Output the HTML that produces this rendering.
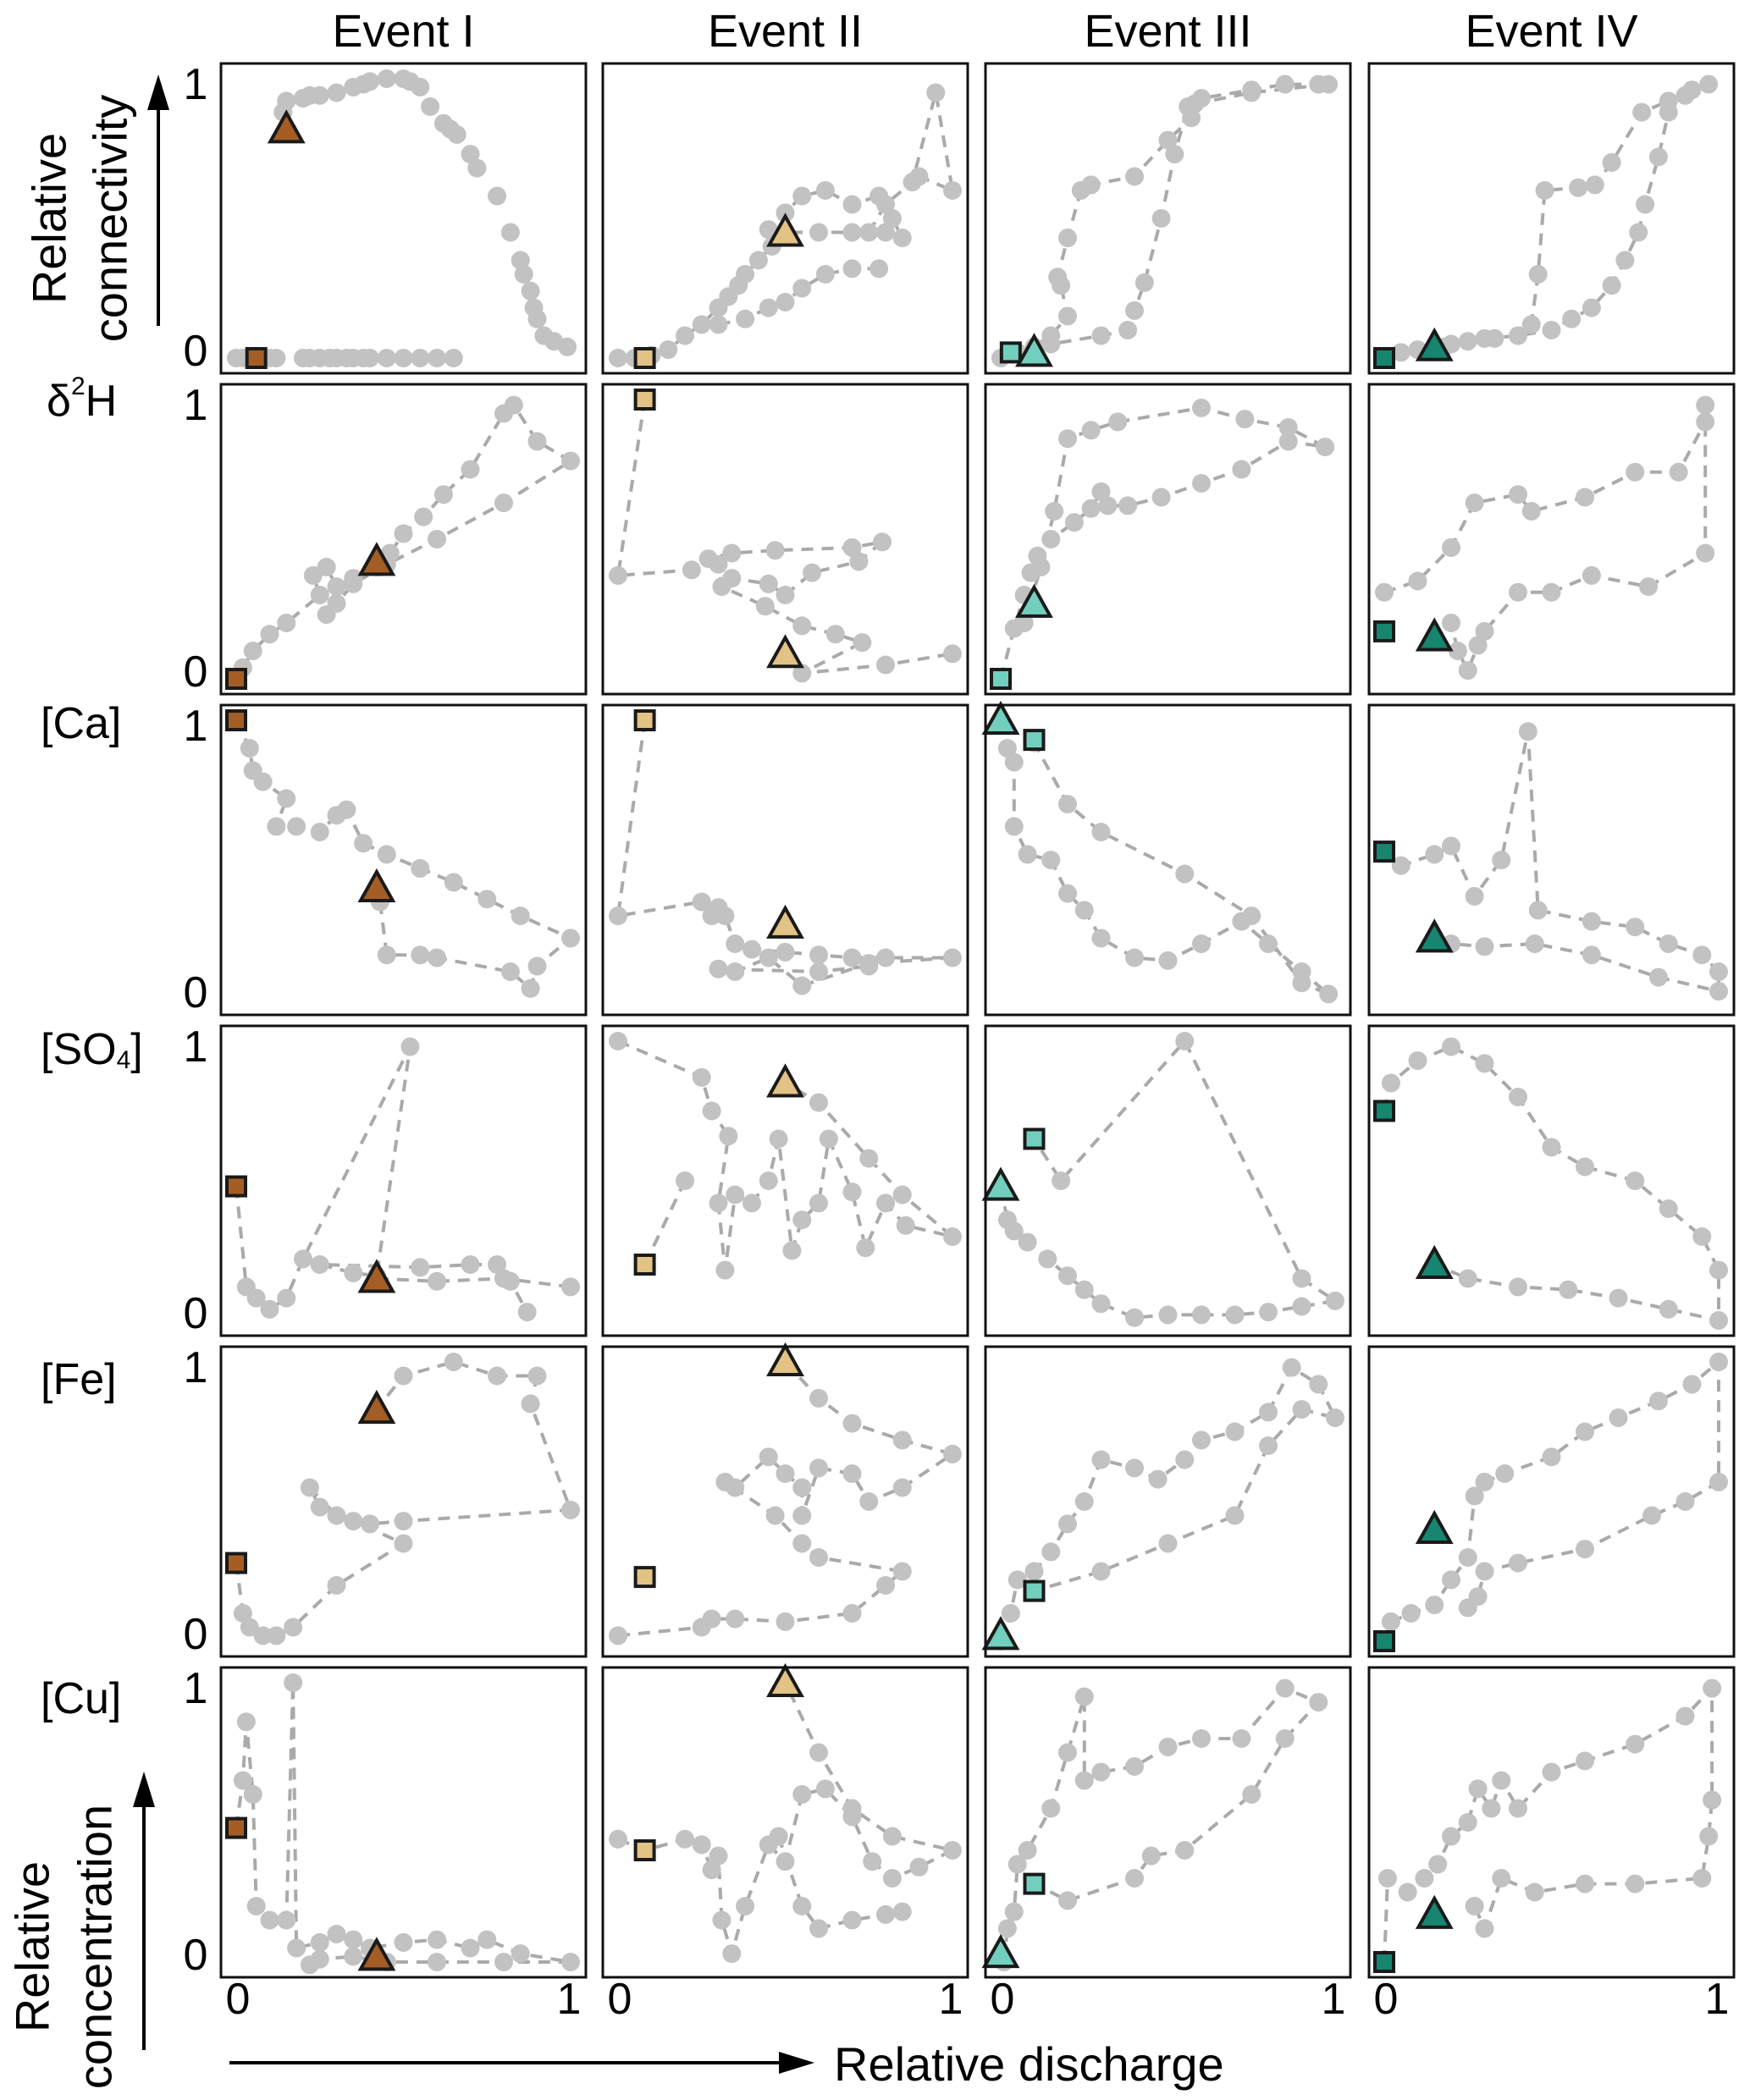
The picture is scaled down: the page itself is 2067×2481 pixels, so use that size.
<!DOCTYPE html>
<html><head><meta charset="utf-8"><style>
html,body{margin:0;padding:0;background:#fff;position:relative;}
svg{display:block;font-family:"Liberation Sans",Arial,sans-serif;}
</style></head><body>
<svg id="chart" width="2067" height="2481" viewBox="0 0 2067 2481" xmlns="http://www.w3.org/2000/svg">
<g id="panels"></g>
<g id="labels"></g>
</svg>
<script>
const events = ["Event I","Event II","Event III","Event IV"];
const rowLabels = ["","δ²H","[Ca]","[SO4]","[Fe]","[Cu]"];
const eventColors = ["#a45e25","#e2c285","#72cfbd","#17856f"];
const xTicks = [0,1];
const yTicks = [0,1];
const conn1 = [[0,0],[0.02,0],[0.04,0],[0.06,0],[0.1,0],[0.12,0],[0.2,0],[0.22,0],[0.25,0],[0.28,0],[0.3,0],[0.33,0],[0.35,0],[0.38,0],[0.4,0],[0.45,0],[0.5,0],[0.55,0],[0.6,0],[0.65,0],[null,null],[0.14,0.88],[0.15,0.92],[0.2,0.93],[0.22,0.94],[0.25,0.94],[0.3,0.95],[0.35,0.97],[0.38,0.98],[0.4,0.99],[0.45,1.0],[0.5,1.0],[0.52,0.99],[0.55,0.97],[0.58,0.9],[0.62,0.84],[0.64,0.82],[0.66,0.8],[0.7,0.73],[0.72,0.68],[0.78,0.58],[0.82,0.45],[0.85,0.35],[0.86,0.3],[0.88,0.24],[0.89,0.18],[0.9,0.14],[0.92,0.08],[0.95,0.06],[0.99,0.04]];
const conn2 = [[0,0],[0.05,0],[0.1,0.01],[0.15,0.03],[0.2,0.08],[0.25,0.12],[0.3,0.18],[0.33,0.22],[0.36,0.26],[0.38,0.3],[0.42,0.35],[0.46,0.4],[0.5,0.45],[0.6,0.45],[0.7,0.45],[0.8,0.45],[0.85,0.43],[0.82,0.5],[0.78,0.58],[0.7,0.55],[0.62,0.6],[0.55,0.58],[0.5,0.52],[0.45,0.46],[null,null],[0.3,0.12],[0.38,0.14],[0.45,0.18],[0.5,0.2],[0.55,0.25],[0.62,0.3],[0.7,0.32],[0.78,0.32],[null,null],[0.75,0.45],[0.8,0.55],[0.88,0.63],[0.95,0.95],[1.0,0.6],[0.9,0.65]];
const conn3 = [[0,0],[0.05,0.02],[0.15,0.05],[0.3,0.08],[0.38,0.1],[0.4,0.17],[0.43,0.27],[0.48,0.5],[0.52,0.73],[0.56,0.9],[0.6,0.93],[0.75,0.96],[0.85,0.98],[0.95,0.98],[0.98,0.98],[0.75,0.95],[0.58,0.91],[0.57,0.86],[0.5,0.78],[0.4,0.65],[0.27,0.62],[0.24,0.6],[0.2,0.43],[0.17,0.29],[0.18,0.26],[0.2,0.15],[0.15,0.08],[0.1,0.04]];
const conn4 = [[0,0],[0.05,0.02],[0.1,0.03],[0.2,0.05],[0.3,0.07],[0.4,0.08],[0.5,0.1],[0.56,0.14],[0.62,0.18],[0.68,0.26],[0.72,0.35],[0.76,0.45],[0.78,0.55],[0.82,0.72],[0.85,0.88],[0.9,0.94],[0.97,0.98],[0.92,0.96],[0.85,0.92],[0.77,0.88],[0.68,0.7],[0.63,0.62],[0.58,0.61],[0.48,0.6],[0.46,0.3],[0.44,0.12],[0.33,0.07],[0.25,0.06],[0.18,0.04]];
const h1 = [[0,0],[0.02,0.04],[0.05,0.1],[0.1,0.16],[0.15,0.2],[0.25,0.3],[0.23,0.37],[0.27,0.4],[0.3,0.33],[0.35,0.36],[0.42,0.4],[0.46,0.45],[0.5,0.52],[0.56,0.58],[0.62,0.66],[0.7,0.75],[0.8,0.95],[0.83,0.98],[0.9,0.85],[1.0,0.78],[0.8,0.63],[0.6,0.5],[0.45,0.41],[0.35,0.34],[0.3,0.27],[0.27,0.23]];
const h2 = [[0.08,1],[0,0.37],[0.22,0.39],[0.27,0.43],[0.34,0.45],[0.47,0.46],[0.7,0.47],[0.79,0.49],[0.72,0.42],[0.58,0.38],[0.5,0.3],[0.45,0.34],[0.34,0.36],[0.3,0.41],[0.31,0.33],[0.44,0.26],[0.55,0.19],[0.65,0.16],[0.73,0.13],[0.55,0.02],[0.8,0.05],[1.0,0.09]];
const h3 = [[0,0],[0.04,0.18],[0.07,0.3],[0.09,0.38],[0.11,0.44],[0.15,0.5],[0.22,0.56],[0.27,0.61],[0.3,0.67],[0.32,0.62],[0.38,0.62],[0.48,0.65],[0.6,0.7],[0.72,0.75],[0.86,0.85],[0.97,0.83],[0.86,0.9],[0.73,0.93],[0.6,0.97],[0.35,0.92],[0.27,0.89],[0.2,0.86],[0.16,0.6],[0.12,0.4],[0.07,0.2]];
const h4 = [[0,0.31],[0.1,0.35],[0.2,0.47],[0.27,0.63],[0.4,0.66],[0.44,0.6],[0.6,0.65],[0.75,0.74],[0.88,0.74],[0.96,0.92],[0.96,0.98],[0.96,0.45],[0.79,0.33],[0.62,0.37],[0.5,0.31],[0.4,0.31],[0.3,0.17],[0.28,0.12],[0.25,0.03],[0.22,0.1],[0.2,0.2]];
const ca1 = [[0,1],[0.04,0.9],[0.05,0.82],[0.08,0.78],[0.15,0.72],[0.12,0.62],[0.18,0.62],[0.25,0.6],[0.3,0.66],[0.33,0.68],[0.38,0.56],[0.45,0.52],[0.55,0.47],[0.65,0.42],[0.75,0.36],[0.85,0.3],[1.0,0.22],[0.9,0.12],[0.88,0.04],[0.82,0.1],[0.6,0.15],[0.55,0.16],[0.45,0.16],[0.43,0.35]];
const ca2 = [[0.08,1],[0,0.3],[0.25,0.35],[0.28,0.3],[0.3,0.33],[0.32,0.3],[0.35,0.2],[0.4,0.18],[0.5,0.17],[0.6,0.16],[0.7,0.15],[0.8,0.15],[1.0,0.15],[0.75,0.13],[0.55,0.05],[0.45,0.15],[0.35,0.1],[0.3,0.11],[0.6,0.1],[0.75,0.12]];
const ca3 = [[0,1],[0.02,0.9],[0.04,0.85],[0.04,0.62],[0.08,0.52],[0.15,0.5],[0.2,0.38],[0.25,0.32],[0.3,0.22],[0.4,0.15],[0.5,0.14],[0.6,0.2],[0.72,0.28],[0.8,0.2],[0.9,0.1],[0.98,0.02],[0.9,0.06],[0.75,0.3],[0.55,0.45],[0.3,0.6],[0.2,0.7],[0.1,0.92]];
const ca4 = [[0,0.53],[0.05,0.48],[0.15,0.52],[0.2,0.55],[0.27,0.37],[0.35,0.5],[0.43,0.96],[0.46,0.32],[0.62,0.28],[0.75,0.26],[0.85,0.2],[0.95,0.16],[1.0,0.1],[1.0,0.03],[0.82,0.08],[0.62,0.16],[0.45,0.2],[0.3,0.19],[0.2,0.2],[0.15,0.22]];
const so1 = [[0,0.48],[0.03,0.12],[0.06,0.08],[0.1,0.04],[0.15,0.08],[0.2,0.22],[0.52,0.98],[0.42,0.16],[0.35,0.17],[0.25,0.2],[0.55,0.19],[0.7,0.2],[0.78,0.2],[0.82,0.14],[0.87,0.03],[null,null],[0.42,0.15],[0.6,0.14],[0.8,0.15],[1.0,0.12]];
const so2 = [[0.08,0.2],[0.2,0.5],[null,null],[0,1],[0.25,0.87],[0.28,0.75],[0.33,0.66],[0.3,0.42],[0.32,0.18],[0.35,0.45],[0.4,0.42],[0.45,0.5],[0.48,0.65],[0.52,0.25],[0.55,0.36],[0.6,0.42],[0.63,0.65],[0.7,0.46],[0.74,0.26],[0.8,0.42],[0.86,0.34],[1.0,0.3],[0.85,0.45],[0.75,0.58],[0.6,0.78],[0.5,0.85]];
const so3 = [[0,0.48],[0.02,0.36],[0.04,0.32],[0.08,0.28],[0.14,0.22],[0.2,0.16],[0.25,0.11],[0.3,0.06],[0.4,0.01],[0.5,0.02],[0.6,0.02],[0.7,0.02],[0.8,0.03],[0.9,0.05],[1.0,0.07],[0.9,0.15],[0.55,1.0],[0.18,0.5],[0.1,0.65]];
const so4 = [[0,0.75],[0.02,0.85],[0.1,0.93],[0.2,0.98],[0.3,0.92],[0.4,0.8],[0.5,0.62],[0.6,0.55],[0.75,0.5],[0.85,0.4],[0.95,0.3],[1.0,0.18],[1.0,0.0],[0.85,0.04],[0.7,0.08],[0.55,0.11],[0.4,0.12],[0.25,0.15],[0.15,0.2]];
const fe1 = [[0,0.28],[0.02,0.1],[0.04,0.05],[0.08,0.02],[0.12,0.02],[0.17,0.05],[0.3,0.2],[0.5,0.35],[0.35,0.43],[0.25,0.48],[0.22,0.55],[0.3,0.45],[0.4,0.42],[0.5,0.43],[1.0,0.47],[0.88,0.85],[0.9,0.95],[0.78,0.95],[0.65,1.0],[0.5,0.95],[0.42,0.83]];
const fe2 = [[0,0.02],[0.25,0.05],[0.28,0.08],[0.35,0.08],[0.5,0.07],[0.7,0.1],[0.8,0.2],[0.85,0.25],[0.6,0.3],[0.55,0.35],[0.47,0.45],[0.32,0.57],[0.35,0.55],[0.45,0.66],[0.5,0.6],[0.55,0.55],[0.55,0.45],[0.6,0.62],[0.7,0.6],[0.75,0.5],[0.85,0.55],[1.0,0.67],[0.85,0.72],[0.7,0.78],[0.6,0.87],[0.5,1.0]];
const fe3 = [[0,0],[0.03,0.1],[0.05,0.22],[0.1,0.25],[0.15,0.32],[0.2,0.42],[0.25,0.5],[0.3,0.65],[0.4,0.62],[0.47,0.58],[0.55,0.65],[0.6,0.72],[0.7,0.75],[0.8,0.82],[0.87,0.98],[0.95,0.92],[1.0,0.8],[0.9,0.83],[0.8,0.7],[0.7,0.45],[0.5,0.35],[0.3,0.25],[0.1,0.18]];
const fe4 = [[0,0],[0.02,0.07],[0.08,0.1],[0.15,0.13],[0.2,0.22],[0.25,0.3],[0.27,0.52],[0.3,0.57],[0.36,0.6],[0.5,0.66],[0.6,0.75],[0.7,0.8],[0.82,0.86],[0.92,0.92],[1.0,1.0],[1.0,0.57],[0.9,0.5],[0.8,0.45],[0.6,0.33],[0.4,0.28],[0.3,0.25],[0.28,0.16],[0.25,0.12]];
const cu1 = [[0,0.48],[0.02,0.65],[0.03,0.86],[0.05,0.6],[0.06,0.2],[0.1,0.15],[0.15,0.15],[0.17,1.0],[0.18,0.05],[0.25,0.07],[0.3,0.1],[0.35,0.08],[0.4,0.05],[0.5,0.07],[0.6,0.08],[0.7,0.05],[0.75,0.08],[0.85,0.03],[1.0,0.0],[0.8,0.0],[0.6,0.0],[0.45,0.0],[0.35,0.02],[0.25,0.01],[0.22,-0.01]];
const cu2 = [[0,0.44],[0.08,0.4],[0.2,0.44],[0.25,0.42],[0.28,0.33],[0.3,0.38],[0.31,0.15],[0.34,0.03],[0.38,0.2],[0.45,0.42],[0.5,0.36],[0.55,0.6],[0.62,0.62],[0.7,0.52],[0.76,0.36],[0.82,0.3],[0.9,0.34],[1.0,0.4],[0.82,0.45],[0.7,0.55],[0.6,0.75],[0.5,1.0],[null,null],[0.48,0.45],[0.55,0.2],[0.6,0.12],[0.7,0.15],[0.8,0.17],[0.85,0.18]];
const cu3 = [[0.01,0.0],[0.02,0.12],[0.04,0.18],[0.05,0.35],[0.08,0.4],[0.15,0.55],[0.2,0.75],[0.25,0.95],[0.25,0.65],[0.3,0.68],[0.4,0.7],[0.5,0.77],[0.6,0.8],[0.72,0.8],[0.85,0.98],[0.95,0.93],[0.85,0.8],[0.75,0.6],[0.55,0.4],[0.45,0.38],[0.4,0.3],[0.2,0.22],[0.1,0.28]];
const cu4 = [[0,0],[0.01,0.3],[0.07,0.25],[0.12,0.3],[0.16,0.35],[0.2,0.45],[0.25,0.5],[0.28,0.62],[0.32,0.55],[0.35,0.65],[0.4,0.55],[0.5,0.68],[0.6,0.72],[0.75,0.78],[0.9,0.88],[0.98,0.98],[0.98,0.58],[0.97,0.45],[0.95,0.3],[0.75,0.28],[0.6,0.28],[0.45,0.25],[0.35,0.3],[0.3,0.12],[0.27,0.2]];
const paths = [[conn1,conn2,conn3,conn4],[h1,h2,h3,h4],[ca1,ca2,ca3,ca4],[so1,so2,so3,so4],[fe1,fe2,fe3,fe4],[cu1,cu2,cu3,cu4]];
const dashed = [[false,true,true,true],[true,true,true,true],[true,true,true,true],[true,true,true,true],[true,true,true,true],[true,true,true,true]];
const squares = [[[0.06,0],[0.08,0],[0.03,0.02],[0,0]],[[0,0],[0.08,1],[0,0],[0,0.17]],[[0,1],[0.08,1],[0.1,0.93],[0,0.53]],[[0,0.48],[0.08,0.2],[0.1,0.65],[0,0.75]],[[0,0.28],[0.08,0.23],[0.1,0.18],[0,0]],[[0,0.48],[0.08,0.4],[0.1,0.28],[0,0]]];
const triangles = [[[0.15,0.82],[0.5,0.45],[0.1,0.02],[0.15,0.04]],[[0.42,0.42],[0.5,0.09],[0.1,0.27],[0.15,0.15]],[[0.42,0.4],[0.5,0.27],[0,1.0],[0.15,0.22]],[[0.42,0.15],[0.5,0.85],[0,0.48],[0.15,0.2]],[[0.42,0.83],[0.5,1.0],[0,0.02],[0.15,0.4]],[[0.42,0.02],[0.5,1.0],[0,0.03],[0.15,0.17]]];

const NS="http://www.w3.org/2000/svg";
const colLeft=[261,712,1164,1617], PW=431, rowTop=[75,454,833,1212,1591,1970], PH=366, PAD=18;
function mk(t,a,p){const e=document.createElementNS(NS,t);for(const k in a)e.setAttribute(k,a[k]);p.appendChild(e);return e;}
const G=document.getElementById('panels'), L=document.getElementById('labels');
for(let r=0;r<6;r++)for(let c=0;c<4;c++){
  const x0=colLeft[c], y0=rowTop[r];
  const sx=v=>x0+PAD+v*(PW-2*PAD), sy=v=>y0+PH-PAD-v*(PH-2*PAD);
  const g=mk('g',{},G);
  
  
  const data=paths[r][c];
  if(dashed[r][c]){
    let d='',pen=false;
    data.forEach(p=>{ if(p[0]===null){pen=false;return;} d+=(pen?'L':'M')+sx(p[0]).toFixed(1)+','+sy(p[1]).toFixed(1); pen=true;});
    const pl=mk('path',{d:d,fill:'none',stroke:'#aaaaaa','stroke-width':4,'stroke-dasharray':'14,10'},g);
    
    
  }
  data.forEach(p=>{ if(p[0]===null)return;
    const ci=mk('circle',{cx:sx(p[0]),cy:sy(p[1]),r:11,fill:'#c2c2c2'},g);
    
    
  });
  const sq=squares[r][c];
  const s=mk('rect',{x:sx(sq[0])-11,y:sy(sq[1])-11,width:22,height:22,fill:eventColors[c],stroke:'#1a1a1a','stroke-width':4},g);
  
  
  const tr=triangles[r][c], tx=sx(tr[0]), ty=sy(tr[1]);
  const t=mk('polygon',{points:(tx-19)+','+(ty+15)+' '+(tx+19)+','+(ty+15)+' '+tx+','+(ty-19),fill:eventColors[c],stroke:'#1a1a1a','stroke-width':4},g);
  
  
  const fr=mk('rect',{x:x0,y:y0,width:PW,height:PH,fill:'none',stroke:'#111','stroke-width':3},g);
  
  
  if(c===0){
    yTicks.forEach(v=>{
      const tt=mk('text',{x:231,y:(v===1?y0+25:y0+PH-26),'font-size':52,'text-anchor':'middle','dominant-baseline':'central'},L);
      tt.textContent=v;
      
      
    });
  }
  if(r===5){
    xTicks.forEach(v=>{
      const tt=mk('text',{x:(v===0?x0+20:x0+PW-20),y:2362,'font-size':52,'text-anchor':'middle','dominant-baseline':'central'},L);
      tt.textContent=v;
      
      
    });
  }
}
events.forEach((e,c)=>{
  const t=mk('text',{x:colLeft[c]+PW/2,y:55,'font-size':54,'text-anchor':'middle'},L);
  t.textContent=e;
  
  
});
const rowLabelY=[0,474,855,1240,1630,2007];
rowLabels.forEach((lab,r)=>{
  if(!lab)return;
  const t=mk('text',{x:48,y:rowLabelY[r],'font-size':52,'dominant-baseline':'central'},L);
  
  
  if(lab==='δ²H'){t.innerHTML='δ<tspan font-size="30" dy="-18">2</tspan><tspan dy="18">H</tspan>';t.setAttribute('x',55);}
  else if(lab==='[SO4]'){t.innerHTML='[SO<tspan font-size="30" dy="12">4</tspan><tspan dy="-12">]</tspan>';}
  else t.textContent=lab;
});
</script>
<svg style="position:absolute;left:0;top:0" width="2067" height="2481">
<g font-family="Liberation Sans, Arial, sans-serif" font-size="56">
<text transform="translate(58,258) rotate(-90)" text-anchor="middle" dominant-baseline="central">Relative</text>
<text transform="translate(130,258) rotate(-90)" text-anchor="middle" dominant-baseline="central">connectivity</text>
<line x1="187" y1="385" x2="187" y2="125" stroke="#000" stroke-width="4"/>
<polygon points="174,130 200,130 187,88" fill="#000"/>
<text transform="translate(38,2300) rotate(-90)" text-anchor="middle" dominant-baseline="central">Relative</text>
<text transform="translate(112,2300) rotate(-90)" text-anchor="middle" dominant-baseline="central">concentration</text>
<line x1="170" y1="2422" x2="170" y2="2130" stroke="#000" stroke-width="4"/>
<polygon points="157,2135 183,2135 170,2093" fill="#000"/>
<line x1="271" y1="2437" x2="925" y2="2437" stroke="#000" stroke-width="4"/>
<polygon points="920,2424 920,2450 962,2437" fill="#000"/>
<text x="985" y="2458" font-size="56">Relative discharge</text>
</g></svg>
</body></html>
